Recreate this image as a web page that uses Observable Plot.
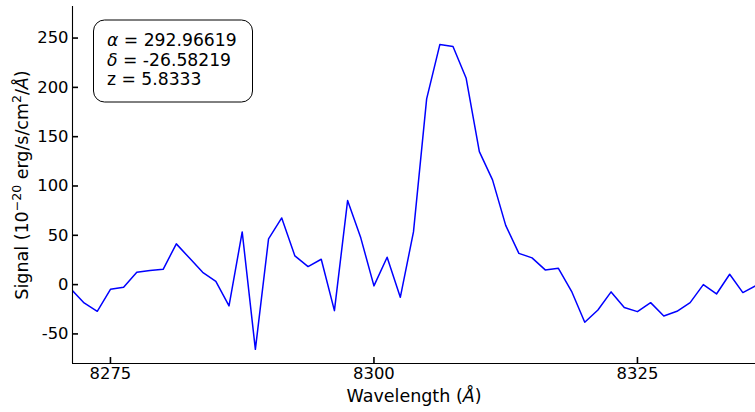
<!DOCTYPE html>
<html>
<head>
<meta charset="utf-8">
<script src="https://cdn.jsdelivr.net/npm/d3@7"></script>
<script src="https://cdn.jsdelivr.net/npm/@observablehq/plot@0.6"></script>
<style>
  html, body { margin: 0; padding: 0; background: white; }
  #chart { width: 755px; height: 412px; }
</style>
</head>
<body>
<div id="chart"></div>
<script>
// Wavelength grid (Å)
const wavelength = [
  8271.25, 8272.5, 8273.75, 8275, 8276.25, 8277.5, 8278.75, 8280, 8281.25, 8282.5,
  8283.75, 8285, 8286.25, 8287.5, 8288.75, 8290, 8291.25, 8292.5, 8293.75, 8295,
  8296.25, 8297.5, 8298.75, 8300, 8301.25, 8302.5, 8303.75, 8305, 8306.25, 8307.5,
  8308.75, 8310, 8311.25, 8312.5, 8313.75, 8315, 8316.25, 8317.5, 8318.75, 8320,
  8321.25, 8322.5, 8323.75, 8325, 8326.25, 8327.5, 8328.75, 8330, 8331.25, 8332.5,
  8333.75, 8335, 8336.25
];
// Signal (1e-20 erg/s/cm^2/Å)
const signal = [
  -4.4, -18.6, -27.1, -4.8, -2.7, 12.5, 14.2, 15.5, 41.3, 26.9,
  12.5, 3.3, -21.6, 53.4, -65.6, 46.3, 67.6, 29.1, 18.3, 25.7,
  -26.4, 85.2, 47.4, -1.3, 27.7, -12.9, 53.4, 188.3, 243.4, 241.4,
  209.2, 134.9, 106.2, 60.1, 31.7, 27.1, 14.9, 16.5, -6.8, -38.2,
  -25.7, -7.4, -23.3, -27.4, -18.3, -31.8, -27.1, -18.3, 0, -9.5,
  10.5, -8.1, -1
];
const xTicks = [8275, 8300, 8325];
const yTicks = [-50, 0, 50, 100, 150, 200, 250];
const xDomain = [8271.4, 8336.2];
const yDomain = [-80, 282];
const xLabel = "Wavelength (Å)";
const yLabel = "Signal (10⁻²⁰ erg/s/cm²/Å)";
// rich pieces of the y label: [text, kind]
const yLabelParts = [
  ["Signal (10", "n"], ["−20", "sup"], [" erg/s/cm", "n"], ["2", "sup"], ["/", "n"], ["Å", "it"], [")", "n"]
];
const legendLines = [
  {sym: "α", rest: " = 292.96619"},
  {sym: "δ", rest: " = -26.58219"},
  {sym: "", rest: "z = 5.8333"}
];

const data = wavelength.map((w, i) => ({w, s: signal[i]}));

const W = 755, H = 412;
const mL = 72, mR = 0, mT = 6, mB = 49;
const frameW = W - mL - mR, frameH = H - mT - mB;

const chart = Plot.plot({
  width: W,
  height: H,
  marginLeft: mL,
  marginRight: mR,
  marginTop: mT,
  marginBottom: mB,
  style: {fontFamily: "DejaVu Sans", fontSize: "16.4px", color: "black", background: "white"},
  x: {domain: xDomain},
  y: {domain: yDomain},
  marks: [
    Plot.line(data, {x: "w", y: "s", stroke: "#0000ff", strokeWidth: 1.5, clip: true}),
    Plot.ruleX([xDomain[0]], {stroke: "black", strokeWidth: 1.1}),
    Plot.ruleY([yDomain[0]], {stroke: "black", strokeWidth: 1.1}),
    Plot.tickX(xTicks, {x: d => d, insetTop: frameH - 6, stroke: "black", strokeWidth: 1.6}),
    Plot.tickY(yTicks, {y: d => d, insetRight: frameW - 6, stroke: "black", strokeWidth: 1.6}),
    Plot.axisX(xTicks, {tickSize: 0, tickPadding: 4, label: null, fontSize: 16.4, tickFormat: d => String(d)}),
    Plot.axisY(yTicks, {tickSize: 0, tickPadding: 4, label: null, fontSize: 16.4, tickFormat: d => String(d)}),
    Plot.text([xLabel], {frameAnchor: "bottom", dy: 33, lineAnchor: "middle", fontSize: 17.5, fill: "black"}),
    Plot.text([yLabel], {frameAnchor: "left", dx: -50, rotate: -90, lineAnchor: "middle", textAnchor: "middle", fontSize: 17.5, fill: "black"})
  ]
});

document.getElementById("chart").appendChild(chart);

// math-style rich text for the axis labels
const svg = d3.select(chart);
svg.selectAll("text").each(function() {
  const t = d3.select(this);
  const txt = this.textContent;
  const target = t.select("tspan").empty() ? t : t.select("tspan");
  if (txt === xLabel) {
    const idx = txt.lastIndexOf("Å");
    target.text(null);
    target.append("tspan").text(txt.slice(0, idx));
    target.append("tspan").attr("font-style", "italic").text("Å");
    target.append("tspan").text(txt.slice(idx + 1));
  } else if (txt === yLabel) {
    target.text(null);
    let raised = false;
    yLabelParts.forEach(([s, kind]) => {
      const sp = target.append("tspan").text(s);
      if (kind === "sup") {
        sp.attr("font-size", 12.5).attr("dy", raised ? 0 : -7);
        raised = true;
      } else {
        if (raised) { sp.attr("dy", 7); raised = false; }
        if (kind === "it") sp.attr("font-style", "italic");
      }
    });
  }
});

// annotation box
const g = svg.append("g").attr("text-anchor", "start");
g.append("rect")
  .attr("x", 93.5).attr("y", 20).attr("width", 159).attr("height", 82)
  .attr("rx", 11).attr("ry", 11)
  .attr("fill", "white").attr("stroke", "black").attr("stroke-width", 1);
legendLines.forEach((l, i) => {
  const t = g.append("text")
    .attr("x", 107).attr("y", 46 + i * 19.5)
    .attr("text-anchor", "start")
    .attr("font-family", "DejaVu Sans").attr("font-size", 17.2).attr("fill", "black");
  if (l.sym) t.append("tspan").attr("font-style", "italic").text(l.sym);
  t.append("tspan").text(l.rest);
});
</script>
</body>
</html>
